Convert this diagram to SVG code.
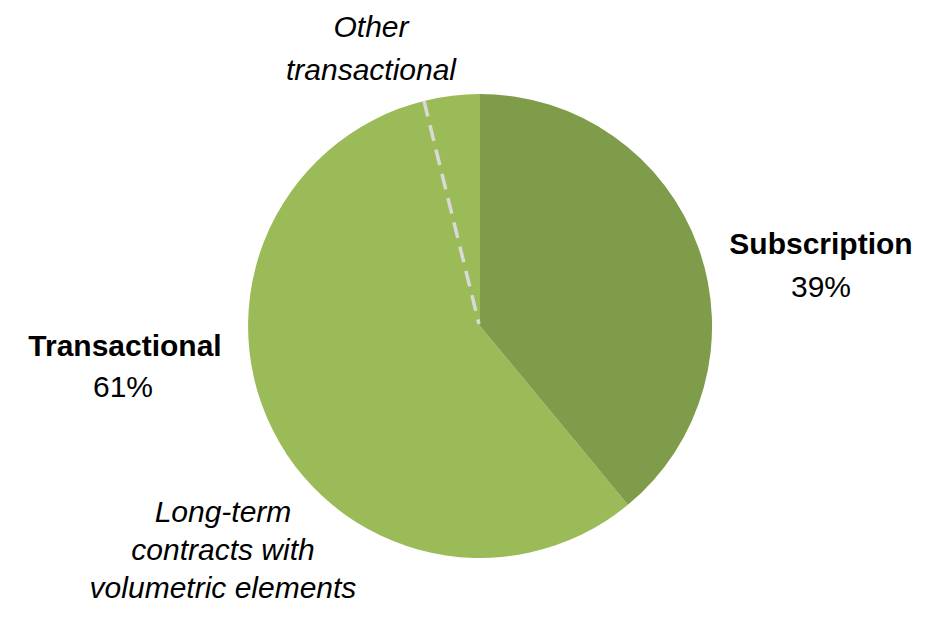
<svg xmlns="http://www.w3.org/2000/svg" width="938" height="619" viewBox="0 0 938 619">
<style>
text{font-family:"Liberation Sans",Arial,sans-serif;font-size:30px;fill:#000;text-anchor:middle}
.b{font-weight:bold}
.i{font-style:italic}
.sub{fill:#7F9C4A}
.tra{fill:#9BBB59}
.dash{stroke:#D9D9D9;stroke-width:3.5;stroke-dasharray:16 9;fill:none}
</style>
<rect width="938" height="619" fill="#fff"/>
<g id="slice-transactional">
<path class="tra" d="M480,326 L627.9,504.8 A232,232 0 1,1 480,94 Z"/>
</g>
<g id="slice-subscription">
<path class="sub" d="M480,326 L480,94 A232,232 0 0,1 627.9,504.8 Z"/>
</g>
<g id="connectors">
<line class="dash" x1="424" y1="101" x2="479" y2="324"/>
</g>
<g id="label-other">
<text class="i" x="371" y="37">Other</text>
<text class="i" x="371" y="80">transactional</text>
</g>
<g id="label-subscription">
<text class="b" x="821" y="254">Subscription</text>
<text x="821" y="297">39%</text>
</g>
<g id="label-transactional">
<text class="b" x="125" y="356">Transactional</text>
<text x="123" y="397">61%</text>
</g>
<g id="label-longterm">
<text class="i" x="223" y="522">Long-term</text>
<text class="i" x="223" y="560">contracts with</text>
<text class="i" x="223" y="598">volumetric elements</text>
</g>
</svg>
